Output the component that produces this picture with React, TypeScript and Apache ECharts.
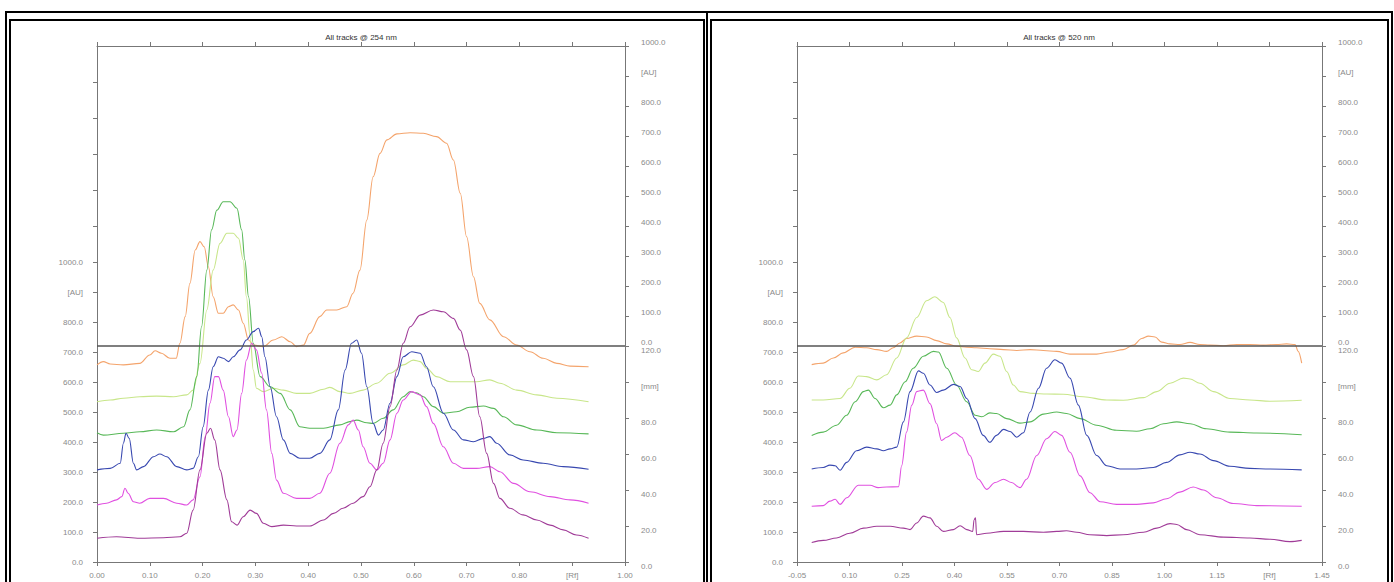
import React, { useEffect, useRef } from "react";
import * as echarts from "echarts";

// ---------- tick / label values ----------
const rfTicks254 = [0, 0.1, 0.2, 0.3, 0.4, 0.5, 0.6, 0.7, 0.8, 0.9, 1.0];
const rfTicks520 = [-0.05, 0.1, 0.25, 0.4, 0.55, 0.7, 0.85, 1.0, 1.15, 1.3, 1.45];
const rfMarker254 = 0.9;
const rfMarker520 = 1.3;
const auLeftTicks = [0, 100, 200, 300, 400, 500, 600, 700, 800, 900, 1000];
const auLeftExtraTicks = [1120, 1240, 1360, 1480, 1600];
const auRightTicks = [0, 100, 200, 300, 400, 500, 600, 700, 800, 900, 1000];
const mmTicks = [0, 20, 40, 60, 80, 100, 120];

const titles = ["All tracks @ 254 nm", "All tracks @ 520 nm"];
const trackColors = ["#f4a46c", "#c8e68a", "#58b858", "#3848b0", "#e050e0", "#a03c98"];

// ---------- 254 nm tracks [Rf, AU(stacked)] ----------
const orange254 = [[0,657],[0.012,668],[0.025,660],[0.05,657],[0.081,662],[0.1,690],[0.11,704],[0.122,696],[0.138,679],[0.15,679],[0.157,729],[0.167,818],[0.176,929],[0.186,1040],[0.195,1068],[0.203,1051],[0.211,984],[0.22,884],[0.23,829],[0.239,829],[0.249,851],[0.258,857],[0.268,840],[0.277,796],[0.287,740],[0.296,723],[0.315,718],[0.334,740],[0.35,751],[0.366,734],[0.378,718],[0.391,723],[0.403,762],[0.422,818],[0.435,840],[0.454,840],[0.473,851],[0.485,896],[0.498,973],[0.511,1140],[0.523,1284],[0.536,1362],[0.549,1407],[0.568,1427],[0.593,1431],[0.618,1429],[0.643,1418],[0.662,1396],[0.675,1340],[0.688,1229],[0.7,1084],[0.713,951],[0.725,862],[0.744,807],[0.77,751],[0.795,723],[0.82,701],[0.845,679],[0.871,662],[0.896,653],[0.931,651]];
const lime254 = [[0,534],[0.025,540],[0.05,546],[0.081,551],[0.113,553],[0.145,551],[0.17,557],[0.182,573],[0.195,662],[0.208,840],[0.22,973],[0.233,1062],[0.246,1096],[0.258,1096],[0.268,1079],[0.277,1007],[0.283,884],[0.29,751],[0.296,640],[0.302,579],[0.315,568],[0.334,579],[0.353,573],[0.378,562],[0.403,562],[0.429,576],[0.441,582],[0.46,568],[0.479,562],[0.504,573],[0.53,596],[0.555,629],[0.58,657],[0.599,673],[0.612,668],[0.624,646],[0.643,618],[0.669,601],[0.694,601],[0.719,601],[0.744,607],[0.763,596],[0.795,573],[0.833,557],[0.871,546],[0.931,534]];
const green254 = [[0,431],[0.012,423],[0.05,429],[0.081,434],[0.113,440],[0.145,434],[0.164,451],[0.176,507],[0.189,618],[0.198,784],[0.208,973],[0.217,1107],[0.227,1173],[0.239,1201],[0.252,1201],[0.265,1179],[0.274,1107],[0.28,1007],[0.287,884],[0.296,729],[0.309,618],[0.328,584],[0.347,562],[0.366,507],[0.384,451],[0.403,446],[0.429,446],[0.46,457],[0.479,468],[0.492,473],[0.511,464],[0.523,462],[0.542,479],[0.561,507],[0.58,551],[0.593,568],[0.605,564],[0.618,551],[0.637,518],[0.656,496],[0.681,501],[0.706,516],[0.732,520],[0.751,512],[0.77,484],[0.795,457],[0.833,440],[0.871,431],[0.931,427]];
const blue254 = [[0,307],[0.025,312],[0.044,329],[0.05,396],[0.055,429],[0.061,412],[0.069,329],[0.075,307],[0.088,318],[0.107,351],[0.119,360],[0.132,351],[0.151,318],[0.17,307],[0.182,312],[0.192,351],[0.201,451],[0.211,573],[0.22,651],[0.23,684],[0.239,679],[0.249,668],[0.258,684],[0.271,707],[0.283,740],[0.296,768],[0.306,779],[0.312,751],[0.318,684],[0.328,584],[0.34,484],[0.353,407],[0.366,362],[0.384,346],[0.403,346],[0.422,362],[0.441,407],[0.457,507],[0.47,640],[0.482,729],[0.492,740],[0.501,696],[0.511,584],[0.523,462],[0.533,423],[0.542,440],[0.555,529],[0.568,618],[0.58,684],[0.596,701],[0.612,696],[0.624,651],[0.637,584],[0.656,496],[0.675,440],[0.694,407],[0.713,401],[0.732,412],[0.744,418],[0.757,396],[0.782,357],[0.807,340],[0.845,329],[0.883,318],[0.931,309]];
const magenta254 = [[0,190],[0.018,196],[0.037,207],[0.047,218],[0.053,246],[0.059,229],[0.069,201],[0.081,196],[0.1,212],[0.126,212],[0.151,196],[0.17,190],[0.182,207],[0.195,284],[0.205,418],[0.214,529],[0.223,618],[0.23,618],[0.239,573],[0.249,484],[0.258,418],[0.265,440],[0.274,562],[0.283,673],[0.293,729],[0.302,707],[0.312,629],[0.321,507],[0.331,362],[0.34,273],[0.353,229],[0.378,212],[0.403,212],[0.422,229],[0.441,296],[0.46,396],[0.476,457],[0.485,473],[0.495,440],[0.504,384],[0.517,329],[0.53,307],[0.542,329],[0.555,407],[0.568,496],[0.58,540],[0.596,568],[0.612,557],[0.624,518],[0.637,462],[0.656,384],[0.675,329],[0.694,312],[0.719,312],[0.744,318],[0.763,301],[0.789,262],[0.82,234],[0.858,218],[0.896,207],[0.931,196]];
const purple254 = [[0,79],[0.037,84],[0.081,79],[0.126,81],[0.157,84],[0.17,96],[0.182,173],[0.195,307],[0.208,429],[0.215,446],[0.223,407],[0.233,307],[0.246,207],[0.255,134],[0.265,123],[0.277,151],[0.29,173],[0.302,162],[0.315,129],[0.331,118],[0.353,123],[0.378,120],[0.403,120],[0.429,140],[0.448,162],[0.466,179],[0.485,196],[0.504,218],[0.517,251],[0.53,307],[0.542,396],[0.555,518],[0.568,640],[0.58,729],[0.593,784],[0.612,823],[0.637,840],[0.656,834],[0.675,812],[0.688,773],[0.7,707],[0.713,618],[0.725,484],[0.738,362],[0.751,262],[0.763,212],[0.782,179],[0.807,157],[0.833,140],[0.858,123],[0.883,107],[0.908,90],[0.931,79]];

// ---------- 520 nm tracks [Rf, AU(stacked)] ----------
const orange520 = [[-0.008,658],[0.025,663],[0.054,680],[0.082,697],[0.116,716],[0.149,714],[0.178,708],[0.206,702],[0.225,714],[0.244,730],[0.263,745],[0.292,753],[0.32,750],[0.349,738],[0.378,727],[0.406,719],[0.435,716],[0.463,714],[0.501,711],[0.54,708],[0.578,705],[0.616,708],[0.654,705],[0.692,702],[0.73,693],[0.768,693],[0.806,693],[0.844,700],[0.882,708],[0.911,723],[0.935,745],[0.954,753],[0.973,750],[0.992,733],[1.016,727],[1.044,725],[1.073,732],[1.101,725],[1.13,723],[1.168,721],[1.206,725],[1.244,725],[1.282,723],[1.32,725],[1.349,727],[1.373,725],[1.382,702],[1.392,663]];
const lime520 = [[-0.008,540],[0.025,540],[0.073,545],[0.101,579],[0.125,620],[0.149,618],[0.178,607],[0.206,624],[0.235,680],[0.263,747],[0.292,815],[0.32,871],[0.344,884],[0.368,865],[0.387,815],[0.406,747],[0.43,680],[0.449,641],[0.468,635],[0.487,663],[0.511,693],[0.53,686],[0.549,635],[0.568,590],[0.587,568],[0.625,562],[0.663,560],[0.711,559],[0.768,551],[0.835,540],[0.882,539],[0.94,548],[0.978,568],[1.016,596],[1.054,613],[1.073,610],[1.101,596],[1.14,568],[1.187,545],[1.244,540],[1.301,536],[1.392,539]];
const green520 = [[-0.008,422],[0.025,433],[0.063,456],[0.092,489],[0.116,534],[0.14,568],[0.154,573],[0.173,545],[0.197,514],[0.216,523],[0.235,557],[0.259,601],[0.282,646],[0.311,686],[0.34,702],[0.354,700],[0.378,646],[0.406,590],[0.435,534],[0.459,489],[0.478,484],[0.501,497],[0.52,495],[0.549,478],[0.587,463],[0.616,467],[0.654,493],[0.692,500],[0.72,495],[0.759,478],[0.806,456],[0.863,439],[0.92,436],[0.959,444],[0.997,461],[1.035,467],[1.073,461],[1.12,444],[1.187,433],[1.263,430],[1.392,424]];
const blue520 = [[-0.008,310],[0.025,315],[0.044,323],[0.059,321],[0.073,306],[0.092,332],[0.12,371],[0.149,383],[0.178,377],[0.197,371],[0.216,377],[0.235,383],[0.254,467],[0.273,568],[0.297,637],[0.311,629],[0.33,590],[0.349,565],[0.368,573],[0.397,592],[0.416,585],[0.435,545],[0.459,478],[0.482,422],[0.501,399],[0.52,422],[0.54,442],[0.559,435],[0.578,416],[0.597,431],[0.616,500],[0.64,579],[0.663,646],[0.687,674],[0.706,663],[0.73,613],[0.754,523],[0.778,422],[0.806,355],[0.835,321],[0.873,310],[0.92,310],[0.968,315],[1.006,332],[1.044,357],[1.073,366],[1.101,360],[1.14,338],[1.187,319],[1.244,312],[1.301,310],[1.392,307]];
const magenta520 = [[-0.008,186],[0.025,188],[0.044,203],[0.059,209],[0.073,192],[0.092,214],[0.125,256],[0.159,256],[0.182,248],[0.206,250],[0.24,251],[0.249,321],[0.263,433],[0.278,523],[0.292,568],[0.311,573],[0.33,528],[0.349,461],[0.363,405],[0.378,416],[0.401,431],[0.42,416],[0.444,355],[0.468,276],[0.492,242],[0.516,265],[0.54,276],[0.563,265],[0.587,248],[0.606,276],[0.635,355],[0.663,411],[0.687,435],[0.706,422],[0.73,366],[0.759,287],[0.787,231],[0.816,201],[0.863,192],[0.92,192],[0.968,197],[1.006,211],[1.044,233],[1.082,250],[1.111,240],[1.149,214],[1.197,195],[1.263,188],[1.392,186]];
const purple520 = [[-0.008,65],[0.025,72],[0.063,80],[0.101,96],[0.14,113],[0.178,119],[0.216,119],[0.254,113],[0.273,108],[0.292,130],[0.311,153],[0.33,147],[0.349,119],[0.368,102],[0.397,108],[0.416,121],[0.435,108],[0.452,102],[0.456,141],[0.46,147],[0.463,91],[0.492,96],[0.54,102],[0.597,102],[0.654,99],[0.692,102],[0.72,104],[0.749,99],[0.787,91],[0.835,88],[0.882,91],[0.94,99],[0.978,113],[1.016,128],[1.035,125],[1.063,108],[1.101,91],[1.168,83],[1.244,80],[1.301,76],[1.358,68],[1.392,72]];

const tracks254 = [orange254, lime254, green254, blue254, magenta254, purple254];
const tracks520 = [orange520, lime520, green520, blue520, magenta520, purple520];

const FONT = "'Liberation Sans', Arial, sans-serif";
const AXIS_COLOR = "#777";
const LABEL_COLOR = "#8a8a8a";

function buildPanel(
  idx: number,
  left: number,
  width: number,
  xMin: number,
  xMax: number,
  xTicks: number[],
  rfMarker: number,
  tracks: number[][][]
) {
  const grid = { left, top: 46, width, height: 516 };
  const lbl = { color: LABEL_COLOR, fontSize: 8, fontFamily: FONT, hideOverlap: false };
  const line = { show: true, onZero: false, lineStyle: { color: AXIS_COLOR, width: 1 } };
  const tickStyle = { color: AXIS_COLOR, width: 1 };
  const xBottom = {
    type: "value", gridIndex: idx, position: "bottom", min: xMin, max: xMax,
    axisLine: line,
    axisTick: { show: true, length: 4, customValues: xTicks, lineStyle: tickStyle },
    axisLabel: {
      ...lbl, margin: 9, customValues: xTicks,
      formatter: (v: number) => (Math.abs(v - rfMarker) < 1e-6 ? "[Rf]" : v.toFixed(2)),
    },
    splitLine: { show: false },
  };
  const xTop = {
    type: "value", gridIndex: idx, position: "top", min: xMin, max: xMax,
    axisLine: line,
    axisTick: { show: true, length: 4, customValues: xTicks, lineStyle: tickStyle },
    axisLabel: { show: false },
    splitLine: { show: false },
  };
  const yLeft = {
    type: "value", gridIndex: idx, position: "left", min: 0, max: 1720,
    axisLine: line,
    axisTick: { show: true, length: 4, customValues: [...auLeftTicks, ...auLeftExtraTicks], lineStyle: tickStyle },
    axisLabel: {
      ...lbl, margin: 14, customValues: auLeftTicks,
      formatter: (v: number) => (v === 900 ? "[AU]" : v.toFixed(1)),
    },
    splitLine: { show: false },
  };
  const yAU = {
    type: "value", gridIndex: idx, position: "right", min: -720, max: 1000,
    axisLine: line,
    axisTick: { show: true, length: 4, customValues: auRightTicks, lineStyle: tickStyle },
    axisLabel: {
      ...lbl, margin: 16, align: "left", verticalAlign: "bottom", customValues: auRightTicks,
      formatter: (v: number) => (v === 900 ? "[AU]" : v.toFixed(1)),
    },
    splitLine: { show: false },
  };
  const yMM = {
    type: "value", gridIndex: idx, position: "right", min: 0, max: 286.67,
    axisLine: line,
    axisTick: { show: true, length: 4, customValues: mmTicks, lineStyle: tickStyle },
    axisLabel: {
      ...lbl, margin: 16, align: "left", verticalAlign: "top", customValues: mmTicks,
      formatter: (v: number) => (v === 100 ? "[mm]" : v.toFixed(1)),
    },
    splitLine: { show: false },
  };
  const xb = idx * 2;
  const yb = idx * 3;
  const series: any[] = tracks.map((d, k) => ({
    type: "line", xAxisIndex: xb, yAxisIndex: yb, data: d,
    showSymbol: false, symbol: "none", smooth: 0.35, smoothMonotone: "x",
    lineStyle: { color: trackColors[k], width: 1.1 },
    itemStyle: { color: trackColors[k] },
    silent: true, z: 3,
  }));
  series.push({
    type: "line", xAxisIndex: xb, yAxisIndex: yb + 1, data: [[xMin, 0], [xMax, 0]],
    showSymbol: false, symbol: "none",
    lineStyle: { color: "#555", width: 1.4 }, silent: true, z: 4,
  });
  return { grid, xAxes: [xBottom, xTop], yAxes: [yLeft, yAU, yMM], series };
}

export default function App() {
  const ref = useRef<HTMLDivElement>(null);
  useEffect(() => {
    if (!ref.current) return;
    const chart = echarts.init(ref.current, null, { renderer: "svg" });
    const p1 = buildPanel(0, 97, 528, 0, 1, rfTicks254, rfMarker254, tracks254);
    const p2 = buildPanel(1, 797, 525, -0.05, 1.45, rfTicks520, rfMarker520, tracks520);
    const option: any = {
      animation: false,
      backgroundColor: "#fff",
      grid: [p1.grid, p2.grid],
      xAxis: [...p1.xAxes, ...p2.xAxes],
      yAxis: [...p1.yAxes, ...p2.yAxes],
      series: [...p1.series, ...p2.series],
      graphic: [
        { type: "rect", shape: { x: 6, y: 12, width: 1386, height: 580 }, style: { fill: "none", stroke: "#000", lineWidth: 2 }, silent: true },
        { type: "rect", shape: { x: 10, y: 20, width: 694, height: 570 }, style: { fill: "none", stroke: "#000", lineWidth: 2 }, silent: true },
        { type: "rect", shape: { x: 711, y: 20, width: 677, height: 570 }, style: { fill: "none", stroke: "#000", lineWidth: 2 }, silent: true },
        { type: "line", shape: { x1: 707, y1: 12, x2: 707, y2: 590 }, style: { stroke: "#000", lineWidth: 2 }, silent: true },
        { type: "text", x: 361, y: 37, style: { text: titles[0], textAlign: "center", textVerticalAlign: "middle", fontSize: 8, fontFamily: FONT, fill: "#333" }, silent: true },
        { type: "text", x: 1059, y: 37, style: { text: titles[1], textAlign: "center", textVerticalAlign: "middle", fontSize: 8, fontFamily: FONT, fill: "#333" }, silent: true },
      ],
    };
    chart.setOption(option);
    return () => chart.dispose();
  }, []);
  return (
    <div
      ref={ref}
      style={{ position: "absolute", left: 0, top: 0, width: 1394, height: 582, background: "#fff" }}
    />
  );
}
